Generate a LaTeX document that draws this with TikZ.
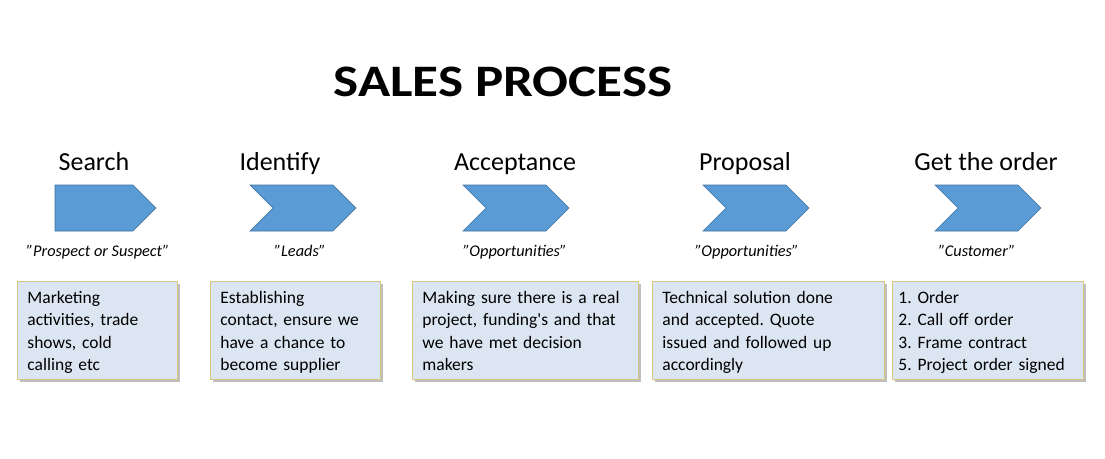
\documentclass[tikz,border=0pt]{standalone}
\usepackage{fontspec}
\setmainfont{Carlito}
\usetikzlibrary{shadows}
\frenchspacing
\definecolor{chevfill}{HTML}{5B9BD5}
\definecolor{chevline}{HTML}{41719C}
\definecolor{boxfill}{HTML}{DCE6F2}
\definecolor{boxline}{HTML}{D9C67E}
\newcommand{\topstrut}{\rule{0pt}{19.6pt}}
\newcommand{\botstrut}{\rule[-6.7pt]{0pt}{6.7pt}}
\tikzset{
  chevshape/.style={fill=chevfill, draw=chevline, line width=0.6pt, line join=miter},
  heading/.style={anchor=base, inner sep=0pt, font=\fontsize{26}{30}\selectfont},
  subtitle/.style={anchor=base, inner sep=0pt, font=\fontsize{16.3}{19}\selectfont\itshape},
  infobox/.style={anchor=north west, fill=boxfill, draw=boxline, line width=0.9pt,
    minimum height=98pt, inner xsep=10pt, inner ysep=0pt, align=left,
    font=\fontsize{17.5}{22.3}\selectfont,
    drop shadow={shadow xshift=2.5pt, shadow yshift=-2.5pt, fill=black, opacity=0.25}},
}
\begin{document}
\begin{tikzpicture}[x=1pt,y=-1pt]
\useasboundingbox[fill=white] (0,0) rectangle (1105,458);
% title
\node[anchor=base, inner sep=0pt, font=\fontsize{45}{50}\selectfont\bfseries] (title) at (503,96) {\scalebox{1.18}[1]{SALES PROCESS}};
% headings
\node[heading] (h1) at (94,170) {Search};
\node[heading] (h2) at (280,170) {Identify};
\node[heading] (h3) at (515,170) {Acceptance};
\node[heading] (h4) at (745,170) {Proposal};
\node[heading] (h5) at (986,170) {Get the order};
% chevrons
\draw[chevshape] (55,185) -- (133,185) -- (156,208) -- (133,231) -- (55,231) -- cycle;
\foreach \L in {250,463,703,935}{
  \draw[chevshape] (\L,185) -- ({\L+83},185) -- ({\L+106},208) -- ({\L+83},231) -- (\L,231) -- ({\L+23},208) -- cycle;
}
% subtitles
\node[subtitle] (s1) at (98,256) {"Prospect or Suspect"};
\node[subtitle] (s2) at (300,256) {"Leads"};
\node[subtitle] (s3) at (515,256) {"Opportunities"};
\node[subtitle] (s4) at (747,256) {"Opportunities"};
\node[subtitle] (s5) at (977,256) {"Customer"};
% boxes
\node[infobox, minimum width=160pt, text width=140pt] (b1) at (17,281)
  {\topstrut Marketing\\activities, trade\\shows, cold\\calling etc\botstrut};
\node[infobox, minimum width=170pt, text width=150pt] (b2) at (210,281)
  {\topstrut Establishing\\contact, ensure we\\have a chance to\\become supplier\botstrut};
\node[infobox, minimum width=226pt, text width=206pt] (b3) at (412,281)
  {\topstrut Making sure there is a real\\project, funding\textquotesingle s and that\\we have met decision\\makers\botstrut};
\node[infobox, minimum width=232pt, text width=212pt] (b4) at (652,281)
  {\topstrut Technical solution done\\and accepted. Quote\\issued and followed up\\accordingly\botstrut};
\node[infobox, minimum width=191pt, text width=179pt, inner xsep=6pt] (b5) at (892,281)
  {\topstrut 1. Order\\2. Call off order\\3. Frame contract\\5. Project order signed\botstrut};
\end{tikzpicture}
\end{document}
